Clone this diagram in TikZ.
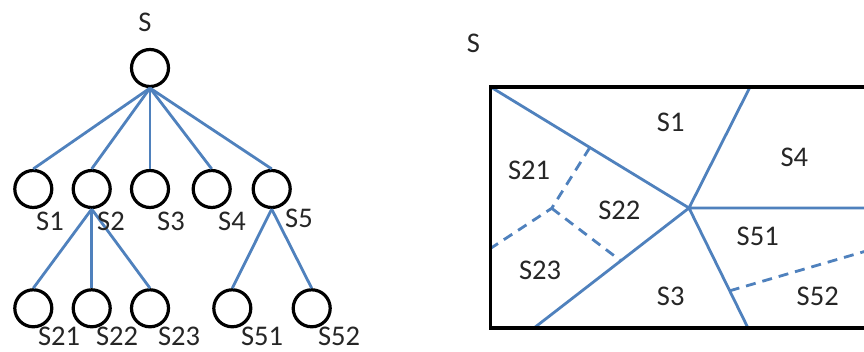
\documentclass[tikz,border=0pt]{standalone}
\usepackage{fontspec}
\setmainfont{Carlito}
\usetikzlibrary{calc}
\definecolor{lineblue}{HTML}{4F81BD}
\definecolor{txt}{HTML}{262626}
\begin{document}
\begin{tikzpicture}[x=1pt,y=-1pt,
  nd/.style={circle,draw=black,line width=3.2pt,minimum size=37pt,inner sep=0pt},
  lbl/.style={inner sep=0pt,text=txt,font=\fontsize{28.5}{32}\selectfont},
  edge/.style={draw=lineblue,line width=2.8pt},
  part/.style={draw=lineblue,line width=2.8pt},
  dpart/.style={draw=lineblue,line width=2.8pt,dash pattern=on 10pt off 7pt}]
\useasboundingbox (0,0) rectangle (864,352);
\clip (0,0) rectangle (864,352);
\fill[white] (0,0) rectangle (864,352);
% ---- tree ----
\node[nd] (r) at (150,68) {};
\node[nd] (s1) at (33.3,189) {};
\node[nd] (s2) at (91.7,189) {};
\node[nd] (s3) at (150,189) {};
\node[nd] (s4) at (211.7,189) {};
\node[nd] (s5) at (271.7,189) {};
\node[nd] (s21) at (33.3,308.3) {};
\node[nd] (s22) at (91.7,308.3) {};
\node[nd] (s23) at (150,308.3) {};
\node[nd] (s51) at (232.3,308.3) {};
\node[nd] (s52) at (311.7,308.3) {};
\foreach \c in {s1,s2,s3,s4,s5} \draw[edge] (r.south) -- (\c.north);
\foreach \c in {s21,s22,s23} \draw[edge] (s2.south) -- (\c.north);
\foreach \c in {s51,s52} \draw[edge] (s5.south) -- (\c.north);
\node[lbl] (lr) at (145,22) {S};
\node[lbl] (l1) at (50,221) {S1};
\node[lbl] (l2) at (111,221) {S2};
\node[lbl] (l3) at (171,221) {S3};
\node[lbl] (l4) at (232,221) {S4};
\node[lbl] (l5) at (299,218) {S5};
\node[lbl] (l21) at (59,336.5) {S21};
\node[lbl] (l22) at (117,336.5) {S22};
\node[lbl] (l23) at (179,336.5) {S23};
\node[lbl] (l51) at (262,336.5) {S51};
\node[lbl] (l52) at (339,336.5) {S52};
% ---- partition ----
\coordinate (TL) at (490.7,87);
\coordinate (BL) at (490.7,328);
\coordinate (C) at (689,208);
\coordinate (T1) at (750,87);
\coordinate (R) at (880,208);
\coordinate (B1) at (748,328);
\coordinate (B2) at (534,328);
\coordinate (J) at (551.7,208.3);
\coordinate (L) at (490.7,248.3);
\coordinate (D1) at ($(TL)!0.5!(C)$);
\coordinate (D2) at ($(C)!0.44!(B2)$);
\coordinate (D3) at ($(C)!0.69!(B1)$);
\coordinate (D4) at (880,247);
\draw[part] (TL) -- (C) (T1) -- (C) (C) -- (R) (C) -- (B1) (C) -- (B2);
\draw[dpart] (D1) -- (J) -- (L);
\draw[dpart] (J) -- (D2);
\draw[dpart] (D3) -- (D4);
\draw[black,line width=3.2pt] (880,87) -- (TL) -- (BL) -- (880,328);
\node[lbl] (ps) at (473.3,43.3) {S};
\node[lbl] (p1) at (670.7,122.3) {S1};
\node[lbl] (p4) at (794.3,157.7) {S4};
\node[lbl] (p21) at (529,170) {S21};
\node[lbl] (p22) at (619.3,210) {S22};
\node[lbl] (p51) at (757.7,236.7) {S51};
\node[lbl] (p23) at (540,270) {S23};
\node[lbl] (p3) at (670.7,296.7) {S3};
\node[lbl] (p52) at (817.7,296.7) {S52};
\end{tikzpicture}
\end{document}
